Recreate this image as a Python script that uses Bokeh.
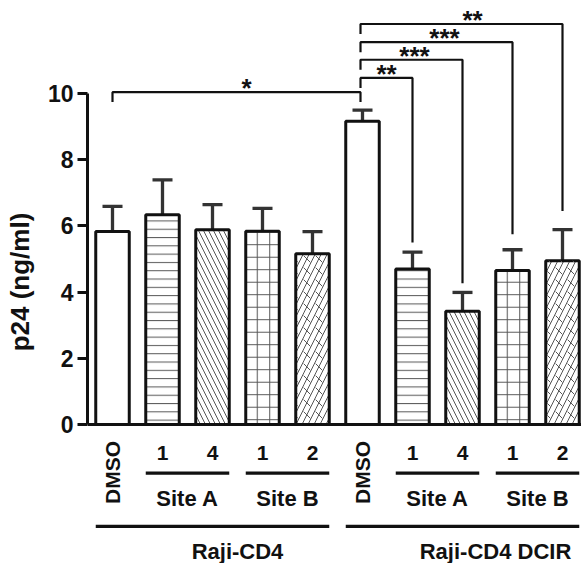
from bokeh.plotting import figure
from bokeh.models import ColumnDataSource, FixedTicker, Range1d
from bokeh.embed import file_html
from bokeh.resources import INLINE
from bokeh.core.properties import value
import math

# ---------------- data ----------------
bar_labels = ["DMSO", "1", "4", "1", "2", "DMSO", "1", "4", "1", "2"]
means = [5.83, 6.34, 5.88, 5.84, 5.16, 9.16, 4.70, 3.42, 4.65, 4.95]
errors = [0.76, 1.05, 0.76, 0.69, 0.67, 0.34, 0.51, 0.57, 0.63, 0.94]
patterns = [" ", "-", "\\", "+", "/", " ", "-", "\\", "+", "/"]
pattern_scale = [10, 8.3, 10, 12.5, 12, 10, 8.3, 10, 12.5, 12]
brick_overlay = [" ", " ", " ", " ", "`", " ", " ", " ", " ", "`"]

site_names = ["Site A", "Site B", "Site A", "Site B"]
site_first = [1, 3, 6, 8]
site_last = [2, 4, 7, 9]

cell_lines = ["Raji-CD4", "Raji-CD4 DCIR"]
cell_first = [0, 5]
cell_last = [4, 9]
cell_text_x = [2.5, 7.66]

sig_from = [0, 4.96, 4.96, 4.96, 4.96]
sig_to = [4.96, 6, 7, 8, 9]
sig_level = [10.04, 10.47, 11.02, 11.55, 12.10]
sig_right_end = [9.74, 5.50, 4.27, 5.75, 6.45]
sig_text = ["*", "**", "***", "***", "**"]
sig_text_x = [2.68, 5.48, 6.04, 6.64, 7.20]

y_ticks = [0, 2, 4, 6, 8, 10]

# ---------------- layout constants ----------------
FONT = "Liberation Sans"
BW = 0.67
xs = list(range(len(means)))
DROP = 0.3
INK = "#111111"

p = figure(width=581, height=563, output_backend="svg", toolbar_location=None,
           x_range=Range1d(-0.5, 9.38), y_range=Range1d(-4.2, 12.81),
           x_axis_location=None, min_border_left=87, min_border_right=0,
           min_border_top=0, min_border_bottom=0)
p.outline_line_color = None
p.grid.visible = False
p.background_fill_color = "white"

src = ColumnDataSource(dict(x=xs, top=means, pat=patterns, brick=brick_overlay,
                            sc=pattern_scale, lbl=bar_labels,
                            etop=[m + e for m, e in zip(means, errors)],
                            cl=[x - 0.2 for x in xs], cr=[x + 0.2 for x in xs]))

# error bars (behind bars)
p.segment(x0="x", y0="top", x1="x", y1="etop", source=src, line_color="#333333", line_width=3.3)
p.segment(x0="cl", y0="etop", x1="cr", y1="etop", source=src, line_color="#333333", line_width=3.3)

p.vbar(x="x", top="top", bottom=0, width=BW, source=src, fill_color="white",
       line_color=INK, line_width=3, hatch_pattern="pat", hatch_color="#555555",
       hatch_weight=1, hatch_scale="sc")
p.vbar(x="x", top="top", bottom=0, width=BW - 0.06, source=src, fill_alpha=0,
       line_alpha=0, hatch_pattern="brick", hatch_color="#555555",
       hatch_weight=1, hatch_scale="sc")

# baseline (x axis line)
p.segment(x0=[-0.5], y0=[0], x1=[9.38], y1=[0], line_color=INK, line_width=3)

# significance brackets
bx, by = [], []
for a, b, lvl, end in zip(sig_from, sig_to, sig_level, sig_right_end):
    bx.append([a, a, b, b])
    by.append([lvl - DROP, lvl, lvl, end])
p.multi_line(xs=bx, ys=by, line_color=INK, line_width=2.2)
p.text(x=sig_text_x, y=sig_level, text=sig_text, text_font=value(FONT),
       text_font_size="26px", text_font_style="bold", text_align="center",
       text_baseline="alphabetic", y_offset=-4, text_color=INK)

# category labels
num_x = [x for x, l in zip(xs, bar_labels) if l != "DMSO"]
num_t = [l for l in bar_labels if l != "DMSO"]
p.text(x=num_x, y=[-0.876] * len(num_x), text=num_t, text_font=value(FONT),
       text_font_size="21px", text_font_style="bold", text_align="center",
       text_baseline="middle", text_color=INK)
dm_x = [x for x, l in zip(xs, bar_labels) if l == "DMSO"]
p.text(x=dm_x, y=[-1.45] * len(dm_x), text=["DMSO"] * len(dm_x), angle=math.pi / 2,
       text_font=value(FONT), text_font_size="21px", text_font_style="bold",
       text_align="center", text_baseline="middle", text_color=INK)

# site group lines & labels
p.segment(x0=[f - BW / 2 for f in site_first], y0=[-1.47] * 4,
          x1=[l + BW / 2 for l in site_last], y1=[-1.47] * 4,
          line_color=INK, line_width=3.3)
p.text(x=[(f + l) / 2 for f, l in zip(site_first, site_last)], y=[-2.24] * 4,
       text=site_names, text_font=value(FONT), text_font_size="22px",
       text_font_style="bold", text_align="center", text_baseline="middle",
       text_color=INK)

# cell line group lines & labels
p.segment(x0=[f - BW / 2 for f in cell_first], y0=[-3.08] * 2,
          x1=[l + BW / 2 for l in cell_last], y1=[-3.08] * 2,
          line_color=INK, line_width=3.3)
p.text(x=cell_text_x, y=[-3.84] * 2, text=cell_lines, text_font=value(FONT),
       text_font_size="22px", text_font_style="bold", text_align="center",
       text_baseline="middle", text_color=INK)

# y axis
ax = p.yaxis[0]
ax.bounds = (0, 10)
ax.ticker = FixedTicker(ticks=y_ticks)
ax.axis_line_width = 3
ax.axis_line_color = INK
ax.major_tick_line_width = 3
ax.major_tick_line_color = INK
ax.major_tick_out = 10
ax.major_tick_in = 0
ax.minor_tick_line_color = None
ax.major_label_text_font = FONT
ax.major_label_text_font_size = "23px"
ax.major_label_text_font_style = "bold"
ax.major_label_text_color = INK
ax.major_label_standoff = 4
ax.axis_label = "p24 (ng/ml)"
ax.axis_label_text_font = FONT
ax.axis_label_text_font_size = "26px"
ax.axis_label_text_font_style = "bold"
ax.axis_label_text_color = INK
ax.axis_label_standoff = 10

open("out.html", "w").write(file_html(p, INLINE))
